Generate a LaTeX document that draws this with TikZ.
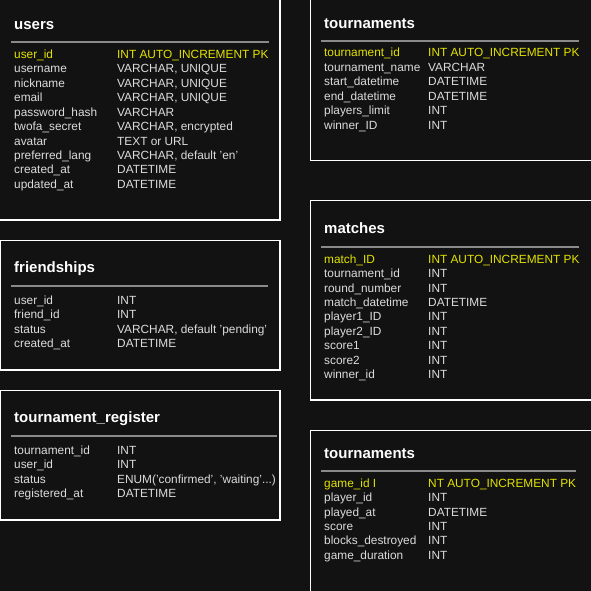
\documentclass[tikz,border=0pt]{standalone}
\usepackage{fontspec}
\setmainfont{Liberation Sans}
\definecolor{bgc}{HTML}{121212}
\definecolor{txtc}{HTML}{DCDCDC}
\definecolor{pkc}{HTML}{E3E300}
\definecolor{rulec}{HTML}{8A8A8A}
\begin{document}
\begin{tikzpicture}[x=1pt,y=-1pt,
  tbox/.style={draw=white,line width=1.3pt,fill=bgc},
  ttl/.style={anchor=base west,inner sep=0pt,text=white,font=\fontsize{15}{18}\selectfont\bfseries},
  fld/.style={anchor=base west,inner sep=0pt,text=txtc,font=\fontsize{11.85}{14}\selectfont},
  pk/.style={fld,text=pkc},
  hrule/.style={draw=rulec,line width=2pt}]
\fill[bgc] (0,0) rectangle (591,591);
\useasboundingbox (0,0) rectangle (591,591);
\clip (0,0) rectangle (591,591);

% users
\draw[tbox] (-1.5,-2) rectangle (280,220);
\node[ttl] (usersT) at (14,29.3) {users};
\draw[hrule] (11,42) -- (268.7,42);
\foreach \n/\t [count=\i from 0] in {username/{VARCHAR, UNIQUE},nickname/{VARCHAR, UNIQUE},email/{VARCHAR, UNIQUE},password\_hash/VARCHAR,twofa\_secret/{VARCHAR, encrypted},avatar/TEXT or URL,preferred\_lang/{VARCHAR, default 'en'},created\_at/DATETIME,updated\_at/DATETIME}{
  \node[fld] (uA\i) at (14,{72.9+14.44*\i}) {\n};
  \node[fld] (uB\i) at (117,{72.9+14.44*\i}) {\t};
}
\node[pk] (uPKa) at (14,58.5) {user\_id};
\node[pk] (uPKb) at (117,58.5) {INT AUTO\_INCREMENT PK};

% tournaments (top)
\draw[tbox] (310.5,-2) rectangle (593,160.5);
\node[ttl] (tourT) at (324,28.3) {tournaments};
\draw[hrule] (321,40.7) -- (579,40.7);
\node[pk] (tPKa) at (324,57) {tournament\_id};
\node[pk] (tPKb) at (428,57) {INT AUTO\_INCREMENT PK};
\foreach \n/\t [count=\i from 0] in {tournament\_name/VARCHAR,start\_datetime/DATETIME,end\_datetime/DATETIME,players\_limit/INT,winner\_ID/INT}{
  \node[fld] (tA\i) at (324,{71.4+14.44*\i}) {\n};
  \node[fld] (tB\i) at (428,{71.4+14.44*\i}) {\t};
}

% friendships
\draw[tbox] (0.5,240.5) rectangle (280,370);
\node[ttl] (friT) at (14,272.3) {friendships};
\draw[hrule] (11,285.7) -- (268,285.7);
\foreach \n/\t [count=\i from 0] in {user\_id/INT,friend\_id/INT,status/{VARCHAR, default 'pending'},created\_at/DATETIME}{
  \node[fld] (fA\i) at (14,{304+14.5*\i}) {\n};
  \node[fld] (fB\i) at (117,{304+14.5*\i}) {\t};
}

% matches
\draw[tbox] (310.5,200.5) rectangle (593,400);
\node[ttl] (matT) at (324,233.3) {matches};
\draw[hrule] (321,246.7) -- (579,246.7);
\node[pk] (mPKa) at (324,263.3) {match\_ID};
\node[pk] (mPKb) at (428,263.3) {INT AUTO\_INCREMENT PK};
\foreach \n/\t [count=\i from 0] in {tournament\_id/INT,round\_number/INT,match\_datetime/DATETIME,player1\_ID/INT,player2\_ID/INT,score1/INT,score2/INT,winner\_id/INT}{
  \node[fld] (mA\i) at (324,{277.7+14.4*\i}) {\n};
  \node[fld] (mB\i) at (428,{277.7+14.4*\i}) {\t};
}

% tournament_register
\draw[tbox] (0.5,390.5) rectangle (280,520);
\node[ttl] (regT) at (14,422.3) {tournament\_register};
\draw[hrule] (11,435.7) -- (277,435.7);
\foreach \n/\t [count=\i from 0] in {tournament\_id/INT,user\_id/INT,status/{ENUM('confirmed', 'waiting'...)},registered\_at/DATETIME}{
  \node[fld] (rA\i) at (14,{454+14.5*\i}) {\n};
  \node[fld] (rB\i) at (117,{454+14.5*\i}) {\t};
}

% tournaments (bottom)
\draw[tbox] (310.5,430.5) rectangle (593,593);
\node[ttl] (gT) at (324,458.3) {tournaments};
\draw[hrule] (321,470.7) -- (575.7,470.7);
\node[pk] (gPKa) at (324,487.3) {game\_id I};
\node[pk] (gPKb) at (428,487.3) {NT AUTO\_INCREMENT PK};
\foreach \n/\t [count=\i from 0] in {player\_id/INT,played\_at/DATETIME,score/INT,blocks\_destroyed/INT,game\_duration/INT}{
  \node[fld] (gA\i) at (324,{501.7+14.4*\i}) {\n};
  \node[fld] (gB\i) at (428,{501.7+14.4*\i}) {\t};
}
\end{tikzpicture}
\end{document}
